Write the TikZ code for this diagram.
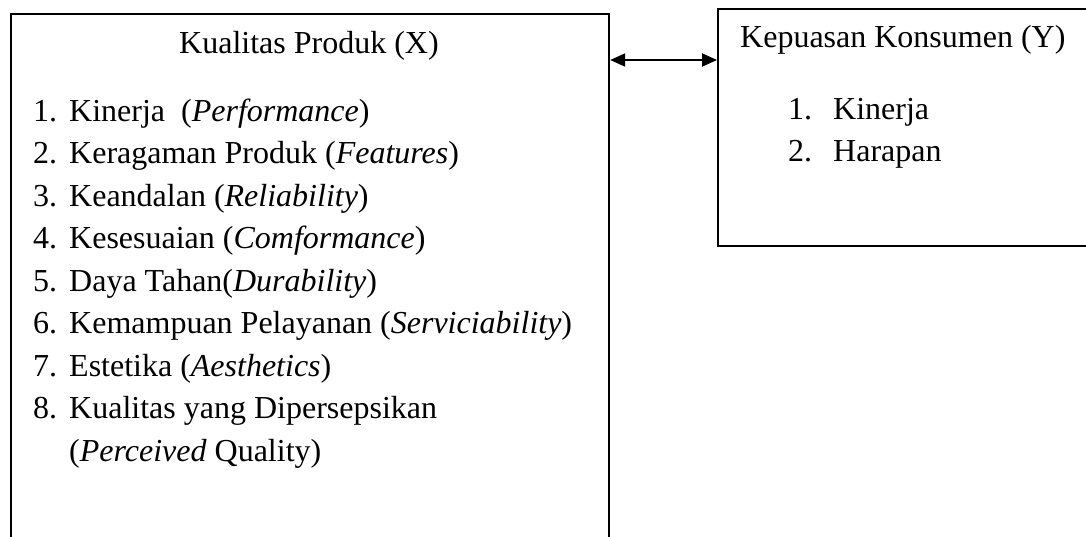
\documentclass[tikz,border=0pt]{standalone}
\usepackage{fontspec}
\setmainfont{Liberation Serif}
\usetikzlibrary{arrows.meta,positioning}

\begin{document}
\begin{tikzpicture}[x=1pt, y=-1pt, >={Triangle[length=15pt,width=13pt]},
    box/.style={rectangle, draw=black, line width=2.2pt, anchor=north west, inner sep=0pt},
    label/.style={anchor=base west, inner sep=0pt, font=\fontsize{32}{38}\selectfont},
    item/.style={label, below=42.5pt of #1, anchor=base west}]

    \useasboundingbox (0,0) rectangle (1086,536);
    \clip (0,0) rectangle (1086,536);

    % the two variable boxes
    \node [box, minimum width=598pt, minimum height=560pt] (prodbox) at (10,13) {};
    \node [box, minimum width=400pt, minimum height=237pt] (puasbox) at (717,8) {};

    % Kualitas Produk (X)
    \node [label] (prodtitle) at (179,53) {Kualitas Produk (X)};
    \node [label] (k1) at (33,121) {\makebox[36pt][l]{1.}Kinerja~ (\textit{Performance})};
    \node [item=k1.base west] (k2) {\makebox[36pt][l]{2.}Keragaman Produk (\textit{Features})};
    \node [item=k2.base west] (k3) {\makebox[36pt][l]{3.}Keandalan (\textit{Reliability})};
    \node [item=k3.base west] (k4) {\makebox[36pt][l]{4.}Kesesuaian (\textit{Comformance})};
    \node [item=k4.base west] (k5) {\makebox[36pt][l]{5.}Daya Tahan(\textit{Durability})};
    \node [item=k5.base west] (k6) {\makebox[36pt][l]{6.}Kemampuan Pelayanan (\textit{Serviciability})};
    \node [item=k6.base west] (k7) {\makebox[36pt][l]{7.}Estetika (\textit{Aesthetics})};
    \node [item=k7.base west] (k8) {\makebox[36pt][l]{8.}Kualitas yang Dipersepsikan};
    \node [item=k8.base west] (k9) {\hspace*{36pt}(\textit{Perceived} Quality)};

    % Kepuasan Konsumen (Y)
    \node [label] (puastitle) at (740,47) {Kepuasan Konsumen (Y)};
    \node [label] (p1) at (788,119) {\makebox[45pt][l]{1.}Kinerja};
    \node [item=p1.base west] (p2) {\makebox[45pt][l]{2.}Harapan};

    \coordinate (arrowy) at (0,60);
    \draw [<->, line width=2pt] (prodbox.east |- arrowy) -- (puasbox.west |- arrowy);
\end{tikzpicture}
\end{document}
